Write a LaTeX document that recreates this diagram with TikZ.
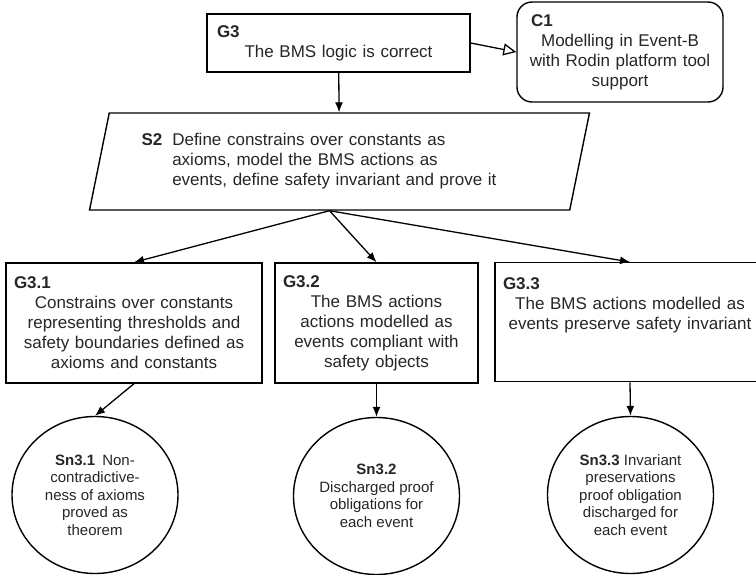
\documentclass[tikz,border=0pt]{standalone}
\usepackage{fontspec}
\setmainfont{Liberation Sans}
\usetikzlibrary{shapes.geometric}
\usetikzlibrary{arrows.meta}

\newcommand{\gsnid}[1]{\textbf{#1}\hfill\mbox{}}

\begin{document}
\begin{tikzpicture}[x=1pt, y=-1pt,
        goal/.style={draw, line width=1.4pt, rectangle, inner xsep=8pt, inner ysep=0pt, align=center, text=black!85, font={\fontsize{17}{20}\selectfont}},
        strat/.style={draw, line width=1.4pt, trapezium, trapezium left angle=75.5, trapezium right angle=104.5, trapezium stretches=true, align=left, text=black!85, font={\fontsize{17}{20}\selectfont}},
        sol/.style={draw, line width=1.4pt, ellipse, inner sep=0pt, minimum width=166pt, minimum height=157pt, align=center, text=black!85, font={\fontsize{15}{17.5}\selectfont}},
        arrow/.style={-{Latex[length=10pt,width=8pt]}, line width=1.3pt},
        ctxarrow/.style={-{Triangle[open,length=13pt,width=12pt]}, line width=1.3pt}]
                \useasboundingbox (0,0) rectangle (756,574);
                \clip (0,0) rectangle (756,574);
                \node[goal, text width=243pt, inner xsep=10pt, minimum height=58pt] (g3) at (338.5,43) {\gsnid{G3}\\The BMS logic is correct};
                \node[goal, rounded corners=15pt, text width=186pt, inner xsep=10pt, minimum height=100pt] (c1) at (620,52) {\hspace*{4pt}\gsnid{C1}\\Modelling in Event-B\\with Rodin platform tool\\support};
                \node[strat, text width=396pt, minimum width=503pt, minimum height=97pt] (s2) at (339.5,161.5) {\textbf{S2}\hspace{10pt}\begin{tabular}[t]{@{}l@{}}Define constrains over constants as\\axioms, model the BMS actions as\\events, define safety invariant and prove it\end{tabular}};
                \node[goal, text width=240pt, minimum height=120pt] (g31) at (134,323) {\gsnid{G3.1}\\Constrains over constants\\representing thresholds and\\safety boundaries defined as\\axioms and constants};
                \node[goal, text width=187pt, minimum height=120pt] (g32) at (376.5,323) {\gsnid{G3.2}\\The BMS actions\\actions modelled as\\events compliant with\\safety objects};
                \node[goal, text width=254pt, anchor=north, inner ysep=14.5pt, text depth=78pt] (g33) at (630,262) {\gsnid{G3.3}\\The BMS actions modelled as\\events preserve safety invariant};
                \node[sol] (sn31) at (95,495) {\textbf{Sn3.1}\hspace{7pt}Non-\\contradictive-\\ness of axioms\\proved as\\theorem};
                \node[sol] (sn32) at (376.5,496) {\textbf{Sn3.2}\\Discharged proof\\obligations for\\each event};
                \node[sol] (sn33) at (630.5,495) {\textbf{Sn3.3} Invariant\\preservations\\proof obligation\\discharged for\\each event};
                \draw[ctxarrow] (g3.east) -- (c1.west);
                \draw[arrow] (g3) -- (s2);
                \foreach \i in {1,2,3}
                {
                    \draw[arrow] (s2.bottom side) -- (g3\i.north);
                    \draw[arrow] (g3\i.south) -- (sn3\i.north);
                }
            \end{tikzpicture}
\end{document}
